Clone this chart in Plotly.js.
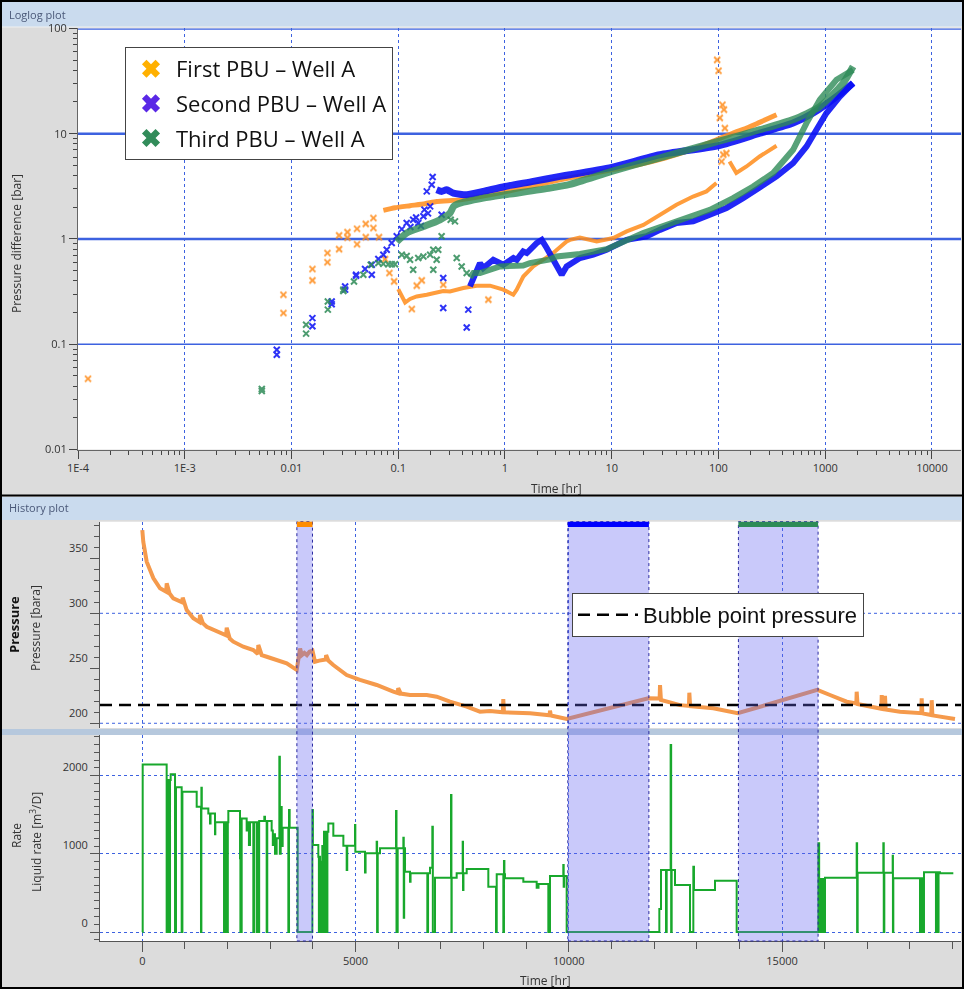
<!DOCTYPE html>
<html><head><meta charset="utf-8">
<script src="https://cdn.plot.ly/plotly-3.0.1.min.js"></script>
<style>html,body{margin:0;padding:0;background:#fff}#chart{width:964px;height:989px}</style>
</head><body><div id="chart"></div>
<script>
// ---------------- Loglog data (time [hr], pressure difference [bar]) ----------------
var pbuNames = ['First PBU – Well A', 'Second PBU – Well A', 'Third PBU – Well A'];

var pbu1ScatterT = [1.24e-4,0.0084,0.0084,0.0157,0.0157,0.0217,0.0217,0.0279,0.0279,0.0334,0.0334,0.0411,0.0411,0.0496,0.0496,0.0585,0.0585,0.066,0.0752,0.0826,0.0914,0.134,0.166,0.149,0.264,0.698,97.2,100.2,103,109,112.6,114.9,107,111,118.7];
var pbu1ScatterP = [0.047,0.295,0.198,0.518,0.404,0.735,0.60,1.08,0.80,1.16,1.03,1.25,0.89,1.39,1.04,1.58,1.27,1.04,0.644,0.475,0.395,0.216,0.404,0.36,0.367,0.265,50.3,39.6,14.1,18.8,16.9,11.3,5.44,6.31,6.54];
var pbu1DpT = [0.0726,0.0934,0.129,0.178,0.229,0.38,0.62,1,1.8,3.27,6,10,18,31.5,55,96,136,184,243,350];
var pbu1DpP = [1.87,1.98,2.07,2.16,2.27,2.35,2.55,2.8,3.2,3.65,4.1,4.54,5.1,5.87,7.0,8.75,10.1,11.3,12.8,15.1];
var pbu1DerT = [0.1,0.108,0.116,0.129,0.149,0.185,0.229,0.264,0.305,0.407,0.543,0.724,0.964,1.196,1.287,1.484,1.84,2.28,2.83,3.78,4.06,5.03,7.24,10.35,13.8,19.8,28.2,40.4,57.8,77.2,95.8,null,127,147,183,243,350];
var pbu1DerP = [0.334,0.281,0.249,0.269,0.284,0.295,0.306,0.32,0.317,0.342,0.36,0.36,0.33,0.295,0.33,0.44,0.548,0.635,0.735,0.946,0.98,1.03,0.946,1.02,1.18,1.36,1.70,2.11,2.53,2.83,3.40,null,5.44,4.23,4.88,6.07,7.68];

var pbu2ScatterT = [0.00728,0.00728,0.0157,0.0157,0.0238,0.0238,0.0318,0.0318,0.0403,0.0403,0.0489,0.0565,0.0565,0.0651,0.0725,0.078,0.0869,0.0968,0.108,0.12,0.13,0.138,0.147,0.154,0.163,0.172,0.176,0.185,0.19,0.199,0.206,0.21,0.255,0.264,0.264,0.453,0.438];
var pbu2ScatterP = [0.0887,0.0795,0.177,0.148,0.255,0.24,0.354,0.33,0.457,0.447,0.518,0.569,0.457,0.644,0.708,0.79,0.914,1.06,1.24,1.42,1.3,1.52,1.6,1.42,1.33,1.64,1.9,2.83,1.75,2.04,3.27,3.87,1.70,0.425,0.221,0.213,0.144];
var pbu2DpT = [0.229,0.255,0.284,0.328,0.438,0.626,1,1.84,3.27,4.06,10,28.3,99.4,244,500,771,1275,1824];
var pbu2DpP = [2.93,2.83,2.93,2.73,2.63,2.83,3.15,3.52,3.93,4.07,4.78,6.3,7.68,10.1,12.6,15.7,22.5,30.2];
var pbu2DerT = [0.47,0.543,0.583,0.626,0.777,0.836,0.964,1.2,1.29,1.48,1.6,1.98,2.21,2.46,2.83,3.27,3.4,3.78,5.04,6.71,8.96,13.8,21.2,28.3,40.5,58,83,119,170,244,350,500,668,828,1028,1370,1824];
var pbu2DerP = [0.354,0.491,0.59,0.529,0.634,0.611,0.569,0.659,0.634,0.761,0.735,0.914,0.98,0.82,0.634,0.48,0.457,0.548,0.659,0.708,0.79,0.98,1.06,1.22,1.42,1.47,1.70,1.97,2.44,3.04,3.93,5.26,7.56,10.9,15.7,22.5,30.2];

var pbu3ScatterT = [0.00527,0.00527,0.0137,0.0137,0.0219,0.0219,0.0306,0.0306,0.0385,0.0471,0.0553,0.0651,0.0725,0.0808,0.087,0.0933,0.108,0.12,0.129,0.138,0.154,0.172,0.199,0.213,0.237,0.229,0.213,0.255,0.31,0.34,0.353,0.393,0.438];
var pbu3ScatterP = [0.0376,0.036,0.153,0.126,0.255,0.213,0.33,0.32,0.395,0.457,0.569,0.59,0.58,0.575,0.575,0.575,0.708,0.69,0.634,0.51,0.659,0.682,0.708,0.79,0.79,0.634,0.51,1.06,1.52,1.47,0.659,0.548,0.474];
var pbu3DpT = [0.0968,0.12,0.172,0.246,0.305,0.33,0.36,0.626,1,2.64,4.06,9.98,28.3,99.4,244,500,890,1472,1824];
var pbu3DpP = [0.94,1.14,1.31,1.52,1.76,2.04,2.15,2.44,2.63,3.04,3.3,4.38,5.9,8.43,10.9,13.6,18.1,30.2,43.5];
var pbu3DerT = [0.47,0.505,0.583,0.898,1.48,1.71,2.64,3.05,5.04,8.96,19.7,40.5,83,137,211,325,500,668,890,1275,1824];
var pbu3DerP = [0.43,0.474,0.474,0.548,0.56,0.59,0.64,0.682,0.72,0.80,1.14,1.47,1.89,2.44,3.15,4.23,7.03,12.6,21.0,32.5,40.4];

var logTickVals = [1e-4,1e-3,0.01,0.1,1,10,100,1000,10000];
var logTickText = ['1E-4','1E-3','0.01','0.1','1','10','100','1000','10000'];
var dpTickVals = [0.01,0.1,1,10,100];
var dpTickText = ['0.01','0.1','1','10','100'];
var dpGridVals = [100,10,1,0.1];

// ---------------- History data ----------------
var presT = [0,23,103,258,415,560,572,640,727,935,947,1000,1041,1196,1340,1353,1420,1510,1744,1965,1979,2050,2134,2368,2603,2710,2720,2800,2917,3151,3386,3620,3660,3700,3740,3800,3860,3920,3990,4049,4150,4244,4300,4310,4360,4478,4792,5104,5496,5885,5990,6000,6060,6277,6668,6903,7214,7606,7918,8152,8455,8464,8480,9090,9550,9559,9580,9951,11864,12130,12139,12160,12607,12818,12826,12845,13388,13960,15827,16125,16516,16742,16750,16770,17297,17330,17337,17350,17407,17414,17430,17765,18266,18274,18290,18500,18509,18525,18704,19055];
var presP = [375.7,365,347,332,322.7,319.6,327.3,318,313.6,310,314.2,306,303,295.5,292,298.5,291,287.8,283.3,280,286.9,277,274.2,269.6,266.6,263,271.2,262,260.5,257.5,254.5,248.5,258,268,262,264,262,265,266,256,257,257.5,258,262,257,253,243.9,239.4,234.8,228.7,227.5,232,227,225.7,225.7,224.2,219.6,215.1,210.5,211.2,210,222,210,209.1,207.2,211.5,207,203.9,222.7,222.5,234.8,221.2,216.5,215.8,227.8,215.5,213.6,209.1,230.3,225.7,219.6,218,228.7,217.5,213.6,213.2,225.7,213,212.8,225,212.5,210.5,209.2,222.7,209,207.5,221,207.2,206,203.9];

var rateT = [0,9,571,590,605,620,634,650,665,767,790,923,940,1275,1376,1385,1395,1548,1587,1600,1705,1712,1916,1930,1940,1955,1963,1975,1994,2005,2017,2291,2300,2330,2447,2470,2500,2525,2603,2620,2682,2695,2720,2740,2861,2877,2916,2930,3033,3060,3080,3111,3150,3213,3225,3245,3268,3291,3424,3440,3455,3643,3987,4000,4127,4140,4150,4166,4180,4205,4220,4245,4260,4284,4300,4323,4340,4362,4479,4714,4792,4805,4987,4995,5222,5235,5495,5505,5520,5573,5949,5960,5988,6121,6130,6140,6160,6277,6290,6683,6700,6745,6800,6812,6863,7238,7248,7254,7371,7512,7520,7530,7606,8113,8293,8310,8465,8480,8490,8504,8934,9247,9290,9520,9559,9871,9880,9890,9950,12123,12162,12279,12295,12388,12400,12412,12490,12842,12920,12935,13428,13936,15851,15870,15890,15910,15929,15950,15968,15990,16007,16750,16760,16773,17375,17385,17398,17594,17600,17609,18235,18260,18274,18300,18313,18328,18609,18625,18649,18670,18703,19016];
var rateQ = [0,2145,0,1945,1500,1945,0,1945,2018,0,1851,0,1796,1604,0,1847,1582,1518,1390,1518,1250,1403,0,1403,0,1403,0,1403,0,1403,1548,943,0,1454,1300,1403,1113,1403,0,1403,0,1403,0,1420,1476,1420,0,1420,1300,1113,1250,1000,1200,2244,1000,1600,1100,1335,0,1561,1335,0,1561,1113,964,0,964,0,900,0,1100,0,1284,0,1284,0,1284,1390,1233,1105,793,1105,1369,1028,763,1007,1156,0,1007,1071,1548,0,1071,1207,183,1071,772,644,751,0,751,823,1348,0,695,1753,0,695,751,1156,537,751,806,580,0,738,0,908,738,687,644,567,614,0,717,857,580,717,0,294,793,0,793,2393,0,793,601,0,836,537,657,0,1135,0,678,0,678,0,678,0,695,1135,0,759,1135,0,759,977,0,687,0,687,0,687,0,764,0,764,0,764,751,751];

var bubblePointP = 216.6;
var pbuStart = [3624, 9977, 13977];
var pbuEnd = [3990, 11878, 15845];
var pbuBarColors = ['#ff8c00', '#0000ff', '#2e8b57'];
var presTickVals = [200,250,300,350];
var presGridVals = [200,300];
var rateTickVals = [0,1000,2000];
var histTickVals = [0,5000,10000,15000];
var histTickText = ['0','5000','10000','15000'];

// ---------------- helpers ----------------
var W = 964, H = 989;
function px(x){ return x / W; }
function py(y){ return 1 - y / H; }

var cols = ['#ff8c1a', '#0a10f5', '#2e8b57'];
var legendCols = ['#ffb000', '#5a28e6', '#328c5a'];
var scT = [pbu1ScatterT, pbu2ScatterT, pbu3ScatterT], scP = [pbu1ScatterP, pbu2ScatterP, pbu3ScatterP];
var dpT = [pbu1DpT, pbu2DpT, pbu3DpT], dpP = [pbu1DpP, pbu2DpP, pbu3DpP];
var deT = [pbu1DerT, pbu2DerT, pbu3DerT], deP = [pbu1DerP, pbu2DerP, pbu3DerP];
var bandW = [5, 7, 7];
var bandOp = [0.85, 0.9, 0.8];

var traces = [];
for (var i = 0; i < 3; i++) {
  traces.push({type:'scatter', mode:'markers', x:scT[i], y:scP[i], xaxis:'x', yaxis:'y', showlegend:false, hoverinfo:'skip',
    opacity:0.85, marker:{symbol:'x-thin-open', size:6, color:cols[i], line:{color:cols[i], width:2}}});
  traces.push({type:'scatter', mode:'lines', x:dpT[i], y:dpP[i], xaxis:'x', yaxis:'y', showlegend:false, hoverinfo:'skip',
    opacity:bandOp[i], line:{color:cols[i], width:bandW[i], shape:'spline', smoothing:0.6}});
  traces.push({type:'scatter', mode:'lines', x:deT[i], y:deP[i], xaxis:'x', yaxis:'y', showlegend:false, hoverinfo:'skip',
    opacity:bandOp[i], line:{color:cols[i], width:bandW[i]-1}});
}
for (var j = 0; j < 3; j++) {
  traces.push({type:'scatter', mode:'markers', x:[null], y:[null], xaxis:'x', yaxis:'y', name:pbuNames[j], legend:'legend',
    legendgroup:'g' + j, marker:{symbol:'x', size:16, color:legendCols[j]}});
}
var histRange = [-992, 19196];
traces.push({type:'scatter', mode:'lines', x:presT, y:presP, xaxis:'x2', yaxis:'y2', showlegend:false, hoverinfo:'skip',
  line:{color:'#f59a4c', width:4}});
traces.push({type:'scatter', mode:'lines', x:histRange, y:[bubblePointP, bubblePointP], xaxis:'x2', yaxis:'y2',
  name:'Bubble point pressure', legend:'legend2', line:{color:'#000', width:2.5, dash:'12px,7px'}});
traces.push({type:'scatter', mode:'lines', x:rateT, y:rateQ, xaxis:'x3', yaxis:'y3', showlegend:false, hoverinfo:'skip',
  line:{color:'#18a82c', width:2, shape:'hv'}});

// minor tick positions (axis decoration only)
var minorLogX = [], minorLogY = [];
for (var d = -4; d <= 4; d++) for (var k = 2; k <= 9; k++) { var v = k * Math.pow(10, d); if (Math.log10(v) < 4.27) minorLogX.push(v); }
for (var d2 = -2; d2 <= 1; d2++) for (var k2 = 2; k2 <= 9; k2++) minorLogY.push(k2 * Math.pow(10, d2));
var minorPres = []; for (var p = 200; p <= 380; p += 10) minorPres.push(p);
var minorRate = []; for (var r = -100; r <= 2500; r += 100) minorRate.push(r);
var minorHist = []; for (var h = 0; h <= 19000; h += 1000) minorHist.push(h);

var tickFont = {family:'Open Sans, sans-serif', size:11, color:'#333'};
var gridBlue = '#3d62e0';

var shapes = [];
shapes.push({type:'rect', xref:'paper', yref:'paper', x0:px(2), x1:px(962), y0:py(27), y1:py(1), fillcolor:'#cadbee', line:{width:0}, layer:'below'});
shapes.push({type:'rect', xref:'paper', yref:'paper', x0:px(2), x1:px(962), y0:py(520), y1:py(497), fillcolor:'#cadbee', line:{width:0}, layer:'below'});
shapes.push({type:'line', xref:'paper', yref:'paper', x0:px(2), x1:px(962), y0:py(27), y1:py(27), line:{color:'#f0f0f0', width:1}, layer:'below'});
shapes.push({type:'rect', xref:'paper', yref:'paper', x0:px(2), x1:px(962), y0:py(735), y1:py(729), fillcolor:'#b6c8dd', line:{width:0}, layer:'below'});
var hgW = [2.5, 2.5, 2.5, 1.5];
dpGridVals.forEach(function(g, idx){
  shapes.push({type:'line', xref:'paper', yref:'y', x0:px(78), x1:px(961), y0:g, y1:g, line:{color:gridBlue, width:hgW[idx]}, layer:'between'});
});
presGridVals.forEach(function(v){
  shapes.push({type:'line', xref:'paper', yref:'y2', x0:px(100), x1:px(961), y0:v, y1:v, line:{color:gridBlue, width:1, dash:'dot'}, layer:'between'});
});
for (var s = 0; s < 3; s++) {
  shapes.push({type:'rect', xref:'x2', yref:'paper', x0:pbuStart[s], x1:pbuEnd[s], y0:py(941), y1:py(521.7),
    fillcolor:'rgba(100,100,240,0.35)', line:{color:'#2a2aa0', width:1, dash:'dot'}, layer:'above'});
  shapes.push({type:'rect', xref:'x2', yref:'paper', x0:pbuStart[s], x1:pbuEnd[s], y0:py(527), y1:py(521.7),
    fillcolor:pbuBarColors[s], line:{width:0}, layer:'above'});
}
shapes.push({type:'rect', xref:'paper', yref:'paper', x0:px(1), x1:px(963), y0:py(988), y1:py(1), line:{color:'#000', width:2}, layer:'above'});
shapes.push({type:'line', xref:'paper', yref:'paper', x0:px(1), x1:px(963), y0:py(495.5), y1:py(495.5), line:{color:'#000', width:2}, layer:'above'});

var annFont = {family:'Open Sans, sans-serif', size:12, color:'#333'};
function ann(text, x, y, angle, font, xa) {
  return {text:text, xref:'paper', yref:'paper', x:px(x), y:py(y), xanchor:xa || 'center', yanchor:'middle',
    textangle:angle || 0, showarrow:false, font:font || annFont};
}
var hdrFont = {family:'Open Sans, sans-serif', size:11, color:'#4a5878'};
var annotations = [
  ann('Loglog plot', 7, 14, 0, hdrFont, 'left'),
  ann('History plot', 7, 508, 0, hdrFont, 'left'),
  ann('Pressure difference [bar]', 16, 244, -90),
  ann('Time [hr]', 556, 488, 0),
  ann('<b>Pressure</b>', 14, 625, -90, {family:'Open Sans, sans-serif', size:13, color:'#111'}),
  ann('Pressure [bara]', 35, 628, -90),
  ann('Rate', 16, 836, -90),
  ann('Liquid rate [m<sup>3</sup>/D]', 36, 842, -90),
  ann('Time [hr]', 545, 980, 0)
];

var layout = {
  width: W, height: H,
  margin: {l:0, r:0, t:0, b:0},
  paper_bgcolor: '#dcdcdc',
  plot_bgcolor: '#ffffff',
  font: tickFont,
  hovermode: false,
  xaxis: {domain:[px(78), px(961)], anchor:'y', type:'log', range:[-4, 4.272], tickmode:'array', tickvals:logTickVals, ticktext:logTickText,
    ticks:'outside', ticklen:8, tickcolor:'#444', showline:true, linecolor:'#666', linewidth:1, showgrid:true, gridcolor:gridBlue, griddash:'dot', gridwidth:1,
    zeroline:false, tickfont:tickFont, minor:{tickmode:'array', tickvals:minorLogX, ticks:'outside', ticklen:4, tickcolor:'#444', showgrid:false}},
  yaxis: {domain:[py(449.5), py(28.4)], anchor:'x', type:'log', range:[-2, 2], tickmode:'array', tickvals:dpTickVals, ticktext:dpTickText,
    ticks:'outside', ticklen:8, tickcolor:'#444', showline:true, linecolor:'#666', linewidth:1, showgrid:false, zeroline:false, tickfont:tickFont,
    minor:{tickmode:'array', tickvals:minorLogY, ticks:'outside', ticklen:4, tickcolor:'#444', showgrid:false}},
  xaxis2: {domain:[px(100), px(961)], anchor:'y2', range:histRange, tickmode:'array', tickvals:histTickVals, showticklabels:false, ticks:'',
    showgrid:true, gridcolor:gridBlue, griddash:'dot', gridwidth:1, zeroline:false, showline:false},
  yaxis2: {domain:[py(728), py(521.7)], anchor:'x2', range:[195.7, 383.3], tickmode:'array', tickvals:presTickVals, ticks:'outside', ticklen:9,
    tickcolor:'#555', showline:true, linecolor:'#555', showgrid:false, zeroline:false, tickfont:tickFont, ticklabelshift:-10,
    minor:{tickmode:'array', tickvals:minorPres, ticks:'outside', ticklen:5, tickcolor:'#555', showgrid:false}},
  xaxis3: {domain:[px(100), px(961)], anchor:'y3', range:histRange, tickmode:'array', tickvals:histTickVals, ticktext:histTickText, ticks:'outside', ticklen:10, tickcolor:'#555',
    showline:true, linecolor:'#555', showgrid:true, gridcolor:gridBlue, griddash:'dot', gridwidth:1, zeroline:false, tickfont:tickFont,
    minor:{tickmode:'array', tickvals:minorHist, ticks:'outside', ticklen:7, tickcolor:'#555', showgrid:false}},
  yaxis3: {domain:[py(941), py(735)], anchor:'x3', range:[-115, 2521], tickmode:'array', tickvals:rateTickVals, ticks:'outside', ticklen:9, tickcolor:'#555',
    showline:true, linecolor:'#555', showgrid:true, gridcolor:gridBlue, griddash:'dot', gridwidth:1, zeroline:false, tickfont:tickFont, ticklabelshift:-9,
    minor:{tickmode:'array', tickvals:minorRate, ticks:'outside', ticklen:5, tickcolor:'#555', showgrid:false}},
  legend: {x:px(125), y:py(47), xanchor:'left', yanchor:'top', bgcolor:'#ffffff', bordercolor:'#444', borderwidth:1,
    traceorder:'grouped', tracegroupgap:3, itemwidth:40,
    font:{family:'Open Sans, sans-serif', size:22, color:'#111'}},
  legend2: {x:px(572), y:py(593), xanchor:'left', yanchor:'top', bgcolor:'#ffffff', bordercolor:'#444', borderwidth:1, itemwidth:60,
    font:{family:'Liberation Sans, Arial, sans-serif', size:22, color:'#111'}},
  shapes: shapes,
  annotations: annotations
};

Plotly.newPlot('chart', traces, layout, {staticPlot:true, displayModeBar:false});
</script></body></html>
